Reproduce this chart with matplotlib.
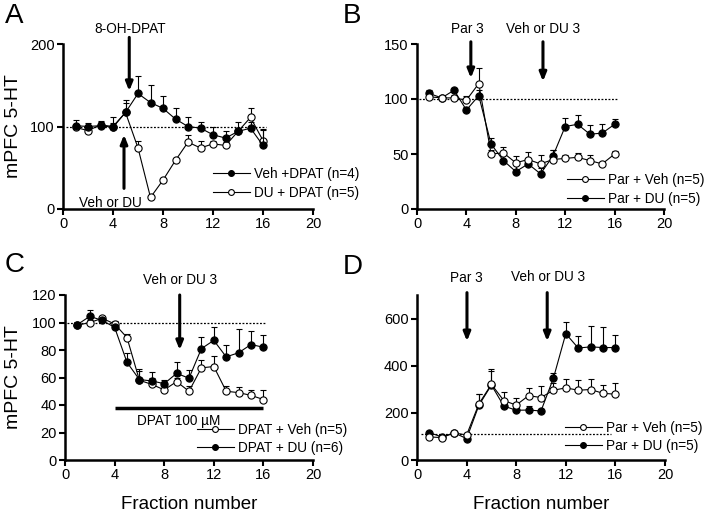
import numpy as np
import matplotlib
matplotlib.use("Agg")
import matplotlib.pyplot as plt
from matplotlib.lines import Line2D

plt.rcParams['font.family'] = ['Liberation Sans', 'DejaVu Sans']

# ---------------- data ----------------
fractions = np.arange(1, 17)

# Panel A
a_veh_dpat = [101, 100, 101, 99, 117, 140, 129, 122, 109, 100, 98, 90, 86, 94, 98, 77]
a_veh_dpat_sem = [7, 4, 5, 12, 15, 21, 21, 15, 13, 11, 7, 9, 9, 12, 8, 19]
a_du_dpat = [99, 95, 102, 100, 117, 74, 14, 35, 59, 81, 74, 79, 77, 94, 111, 83]
a_du_dpat_sem = [3, 3, 5, 4, 12, 9, 2, 3, 3, 9, 9, 3, 4, 4, 12, 14]

# Panel B
b_par_veh = [102, 101, 101, 99, 114, 50, 51, 42, 45, 41, 45, 46, 47, 44, 41, 50]
b_par_veh_sem = [3, 2, 3, 4, 14, 4, 5, 6, 7, 8, 9, 3, 4, 5, 2, 3]
b_par_du = [105, 101, 108, 90, 103, 59, 44, 34, 41, 32, 48, 75, 77, 68, 69, 77]
b_par_du_sem = [3, 2, 2, 3, 5, 6, 5, 6, 5, 5, 6, 8, 8, 8, 8, 5]

# Panel C
c_dpat_veh = [98, 100, 103, 99, 89, 58, 55, 51, 57, 50, 67, 68, 50, 49, 47, 44]
c_dpat_veh_sem = [2, 2, 2, 2, 3, 8, 5, 3, 3, 4, 6, 8, 4, 4, 4, 7]
c_dpat_du = [98.5, 104.5, 101.5, 96.5, 71, 58.5, 57.5, 55.5, 63, 59.5, 81, 87, 75, 78, 84, 82]
c_dpat_du_sem = [2, 4.5, 2, 2, 7, 6, 6.5, 3, 8, 6, 8.5, 10, 9, 17.5, 10, 9]

# Panel D
d_par_veh = [98, 95, 115, 106, 239, 321, 252, 233, 273, 265, 296, 306, 296, 299, 283, 279]
d_par_veh_sem = [10, 8, 8, 8, 40, 64, 38, 32, 34, 49, 30, 39, 45, 43, 34, 46]
d_par_du = [116, 98, 115, 91, 233, 318, 229, 211, 212, 208, 347, 536, 475, 480, 477, 477]
d_par_du_sem = [8, 5, 5, 5, 46, 60, 20, 10, 17, 8, 21, 50, 52, 87, 88, 54]

baseline_abc = 100
baseline_d = 112

x_ticks = [0, 4, 8, 12, 16, 20]
a_yticks = [0, 100, 200]
b_yticks = [0, 50, 100, 150]
c_yticks = [0, 20, 40, 60, 80, 100, 120]
d_yticks = [0, 200, 400, 600]

# ---------------- figure ----------------
W, H = 709, 516
fig = plt.figure(figsize=(W / 100, H / 100), dpi=100)


def px_axes(x0, x1, y_top, y_bot):
    return fig.add_axes([x0 / W, 1 - y_bot / H, (x1 - x0) / W, (y_bot - y_top) / H])


axA = px_axes(63, 313, 44, 209)
axB = px_axes(417, 664, 44, 209)
axC = px_axes(65, 313, 295, 460)
axD = px_axes(417, 665, 295, 460)


def style(ax, ylim, yticks):
    ax.set_xlim(0, 20)
    ax.set_ylim(*ylim)
    ax.set_xticks(x_ticks)
    ax.set_yticks(yticks)
    for s in ['top', 'right']:
        ax.spines[s].set_visible(False)
    for s in ['left', 'bottom']:
        ax.spines[s].set_linewidth(1.8)
    ax.tick_params(direction='out', length=4, width=1.5, labelsize=10.5, pad=2)
    ax.patch.set_alpha(0)


def series(ax, y, sem, filled, z):
    y = np.asarray(y, float)
    sem = np.asarray(sem, float)
    ax.vlines(fractions, y, y + sem, color='black', lw=0.8, zorder=z)
    ax.plot(fractions, y + sem, ls='none', marker='_', ms=5, mew=0.8, color='black', zorder=z)
    ax.plot(fractions, y, color='black', lw=0.8, marker='o', ms=5.2, mew=0.8,
            mfc='black' if filled else 'white', mec='black', zorder=z + 0.5)


def baseline(ax, val, x0=0.2, x1=16.2):
    ax.plot([x0, x1], [val, val], color='black', lw=0.9, ls=(0, (1.5, 1.3)), zorder=1)


def arrow(ax, x, y_tail, y_tip):
    ax.annotate('', xy=(x, y_tip), xytext=(x, y_tail),
                arrowprops=dict(arrowstyle='-|>,head_length=0.32,head_width=0.13',
                                lw=2.2, color='black', shrinkA=0, shrinkB=0,
                                mutation_scale=16),
                annotation_clip=False)


def legend(ax, labels, fills, left_px, center_px, spacing):
    handles = [Line2D([], [], color='black', lw=0.8, marker='o', ms=4.2, mew=0.8,
                      mfc='black' if f else 'white', mec='black') for f in fills]
    ax.legend(handles, labels, loc='center left',
              bbox_to_anchor=(left_px / W, 1 - center_px / H),
              bbox_transform=fig.transFigure, frameon=False, fontsize=9.8,
              handlelength=2.7, handletextpad=0.3, labelspacing=spacing,
              borderpad=0, borderaxespad=0)


# ---- Panel A ----
style(axA, (0, 200), a_yticks)
baseline(axA, baseline_abc)
series(axA, a_du_dpat, a_du_dpat_sem, False, 2)
series(axA, a_veh_dpat, a_veh_dpat_sem, True, 3)
arrow(axA, 5.3, 208, 143)
arrow(axA, 4.88, 25, 90)
axA.text(5.36, 218, '8-OH-DPAT', ha='center', va='center', fontsize=9.8, clip_on=False)
axA.text(3.76, 7.5, 'Veh or DU', ha='center', va='center', fontsize=9.8, clip_on=False)
legend(axA, ['Veh +DPAT (n=4)', 'DU + DPAT (n=5)'], [True, False], 213, 183.5, 0.4)

# ---- Panel B ----
style(axB, (0, 150), b_yticks)
baseline(axB, baseline_abc)
series(axB, b_par_du, b_par_du_sem, True, 2)
series(axB, b_par_veh, b_par_veh_sem, False, 3)
arrow(axB, 4.36, 152, 119)
arrow(axB, 10.2, 152, 116)
axB.text(4.04, 163.5, 'Par 3', ha='center', va='center', fontsize=9.8, clip_on=False)
axB.text(10.24, 163.5, 'Veh or DU 3', ha='center', va='center', fontsize=9.8, clip_on=False)
legend(axB, ['Par + Veh (n=5)', 'Par + DU (n=5)'], [False, True], 567, 189.5, 0.4)

# ---- Panel C ----
style(axC, (0, 120), c_yticks)
baseline(axC, baseline_abc)
series(axC, c_dpat_veh, c_dpat_veh_sem, False, 2)
series(axC, c_dpat_du, c_dpat_du_sem, True, 3)
arrow(axC, 9.25, 120, 80)
axC.text(9.25, 131, 'Veh or DU 3', ha='center', va='center', fontsize=9.8, clip_on=False)
axC.plot([4, 16], [38, 38], color='black', lw=2.5, solid_capstyle='butt')
axC.text(9.2, 28.5, 'DPAT 100 µM', ha='center', va='center', fontsize=9.8)
legend(axC, ['DPAT + Veh (n=5)', 'DPAT + DU (n=6)'], [False, True], 197, 439, 0.28)

# ---- Panel D ----
style(axD, (0, 700), d_yticks)
baseline(axD, baseline_d, 0.35, 15.65)
series(axD, d_par_du, d_par_du_sem, True, 2)
series(axD, d_par_veh, d_par_veh_sem, False, 3)
arrow(axD, 4.03, 710, 504)
arrow(axD, 10.5, 710, 504)
axD.text(4.0, 770, 'Par 3', ha='center', va='center', fontsize=9.8, clip_on=False)
axD.text(10.56, 776, 'Veh or DU 3', ha='center', va='center', fontsize=9.8, clip_on=False)
legend(axD, ['Par + Veh (n=5)', 'Par + DU (n=5)'], [False, True], 565, 437, 0.28)

# axis labels
for ax, x0 in [(axA, 63), (axC, 65)]:
    ax.set_ylabel('mPFC 5-HT', fontsize=14)
    ax.yaxis.set_label_coords((22 - x0) / 248, 0.5)
for ax in [axC, axD]:
    ax.set_xlabel('Fraction number', fontsize=13.5)
    ax.xaxis.set_label_coords(0.5, (460 - 496) / 165)

# panel letters
for letter, xp, yp in [('A', 5, 16), ('B', 343, 16), ('C', 5, 265), ('D', 343, 267)]:
    fig.text(xp / W, 1 - yp / H, letter, fontsize=20, ha='left', va='center')

fig.savefig('out.png', dpi=100)
